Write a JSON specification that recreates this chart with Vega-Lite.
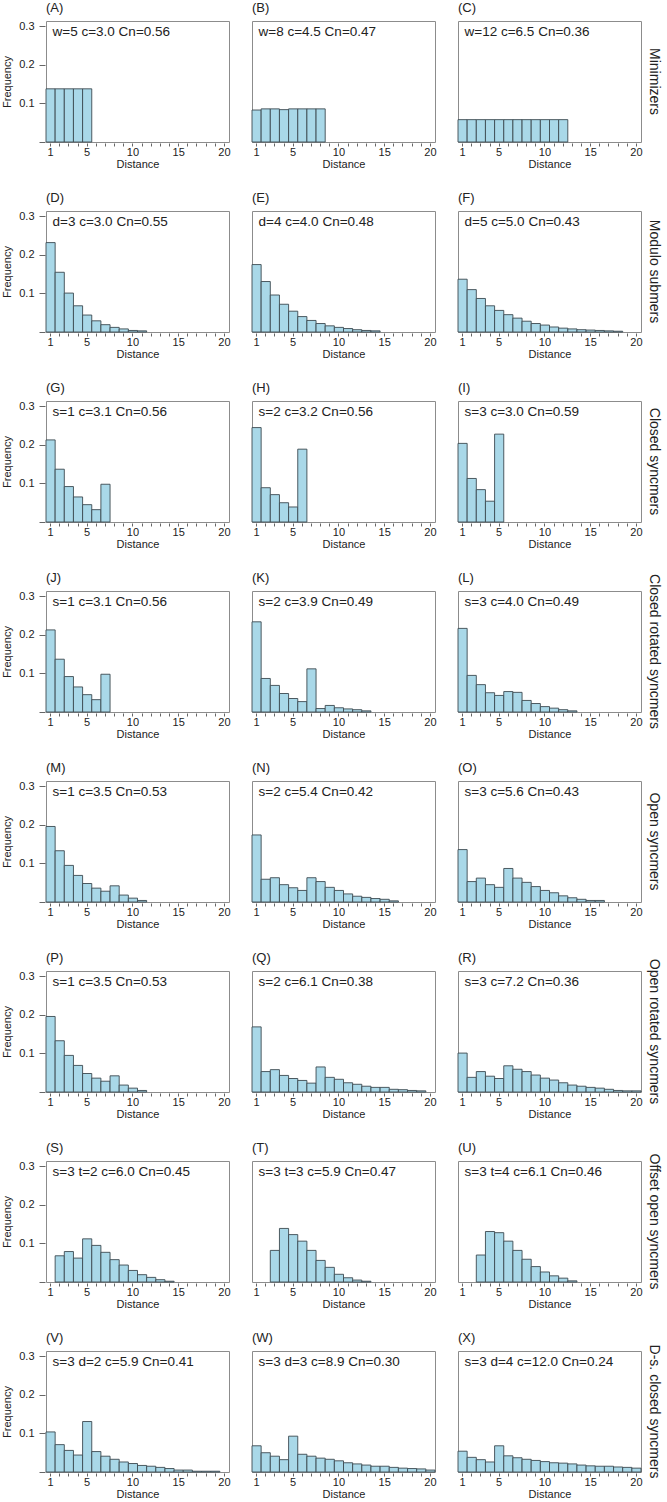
{
"$schema": "https://vega.github.io/schema/vega-lite/v6.json",
"padding": {"left": 1, "top": 2, "right": 2, "bottom": 0},
"datasets": {
"panels": [
{"p":"(A)","m":"Minimizers"},{"p":"(B)","m":"Minimizers"},{"p":"(C)","m":"Minimizers"},
{"p":"(D)","m":"Modulo submers"},{"p":"(E)","m":"Modulo submers"},{"p":"(F)","m":"Modulo submers"},
{"p":"(G)","m":"Closed syncmers"},{"p":"(H)","m":"Closed syncmers"},{"p":"(I)","m":"Closed syncmers"},
{"p":"(J)","m":"Closed rotated syncmers"},{"p":"(K)","m":"Closed rotated syncmers"},{"p":"(L)","m":"Closed rotated syncmers"},
{"p":"(M)","m":"Open syncmers"},{"p":"(N)","m":"Open syncmers"},{"p":"(O)","m":"Open syncmers"},
{"p":"(P)","m":"Open rotated syncmers"},{"p":"(Q)","m":"Open rotated syncmers"},{"p":"(R)","m":"Open rotated syncmers"},
{"p":"(S)","m":"Offset open syncmers"},{"p":"(T)","m":"Offset open syncmers"},{"p":"(U)","m":"Offset open syncmers"},
{"p":"(V)","m":"D-s. closed syncmers"},{"p":"(W)","m":"D-s. closed syncmers"},{"p":"(X)","m":"D-s. closed syncmers"}
],
"rows": [
{"p":"(A)","note":"w=5 c=3.0 Cn=0.56"},{"p":"(B)","note":"w=8 c=4.5 Cn=0.47"},{"p":"(C)","note":"w=12 c=6.5 Cn=0.36"},
{"p":"(D)","note":"d=3 c=3.0 Cn=0.55"},{"p":"(E)","note":"d=4 c=4.0 Cn=0.48"},{"p":"(F)","note":"d=5 c=5.0 Cn=0.43"},
{"p":"(G)","note":"s=1 c=3.1 Cn=0.56"},{"p":"(H)","note":"s=2 c=3.2 Cn=0.56"},{"p":"(I)","note":"s=3 c=3.0 Cn=0.59"},
{"p":"(J)","note":"s=1 c=3.1 Cn=0.56"},{"p":"(K)","note":"s=2 c=3.9 Cn=0.49"},{"p":"(L)","note":"s=3 c=4.0 Cn=0.49"},
{"p":"(M)","note":"s=1 c=3.5 Cn=0.53"},{"p":"(N)","note":"s=2 c=5.4 Cn=0.42"},{"p":"(O)","note":"s=3 c=5.6 Cn=0.43"},
{"p":"(P)","note":"s=1 c=3.5 Cn=0.53"},{"p":"(Q)","note":"s=2 c=6.1 Cn=0.38"},{"p":"(R)","note":"s=3 c=7.2 Cn=0.36"},
{"p":"(S)","note":"s=3 t=2 c=6.0 Cn=0.45"},{"p":"(T)","note":"s=3 t=3 c=5.9 Cn=0.47"},{"p":"(U)","note":"s=3 t=4 c=6.1 Cn=0.46"},
{"p":"(V)","note":"s=3 d=2 c=5.9 Cn=0.41"},{"p":"(W)","note":"s=3 d=3 c=8.9 Cn=0.30"},{"p":"(X)","note":"s=3 d=4 c=12.0 Cn=0.24"},
{"p":"(A)","d":1,"f":0.138},{"p":"(A)","d":2,"f":0.138},{"p":"(A)","d":3,"f":0.138},{"p":"(A)","d":4,"f":0.138},{"p":"(A)","d":5,"f":0.138},
{"p":"(B)","d":1,"f":0.083},{"p":"(B)","d":2,"f":0.086},{"p":"(B)","d":3,"f":0.086},{"p":"(B)","d":4,"f":0.084},{"p":"(B)","d":5,"f":0.086},{"p":"(B)","d":6,"f":0.086},{"p":"(B)","d":7,"f":0.086},{"p":"(B)","d":8,"f":0.086},
{"p":"(C)","d":1,"f":0.058},{"p":"(C)","d":2,"f":0.058},{"p":"(C)","d":3,"f":0.058},{"p":"(C)","d":4,"f":0.058},{"p":"(C)","d":5,"f":0.058},{"p":"(C)","d":6,"f":0.058},{"p":"(C)","d":7,"f":0.058},{"p":"(C)","d":8,"f":0.058},{"p":"(C)","d":9,"f":0.058},{"p":"(C)","d":10,"f":0.058},{"p":"(C)","d":11,"f":0.058},{"p":"(C)","d":12,"f":0.058},
{"p":"(D)","d":1,"f":0.232},{"p":"(D)","d":2,"f":0.155},{"p":"(D)","d":3,"f":0.101},{"p":"(D)","d":4,"f":0.068},{"p":"(D)","d":5,"f":0.044},{"p":"(D)","d":6,"f":0.029},{"p":"(D)","d":7,"f":0.019},{"p":"(D)","d":8,"f":0.012},{"p":"(D)","d":9,"f":0.008},{"p":"(D)","d":10,"f":0.004},{"p":"(D)","d":11,"f":0.003},
{"p":"(E)","d":1,"f":0.175},{"p":"(E)","d":2,"f":0.131},{"p":"(E)","d":3,"f":0.096},{"p":"(E)","d":4,"f":0.072},{"p":"(E)","d":5,"f":0.054},{"p":"(E)","d":6,"f":0.040},{"p":"(E)","d":7,"f":0.030},{"p":"(E)","d":8,"f":0.022},{"p":"(E)","d":9,"f":0.016},{"p":"(E)","d":10,"f":0.012},{"p":"(E)","d":11,"f":0.009},{"p":"(E)","d":12,"f":0.006},{"p":"(E)","d":13,"f":0.004},{"p":"(E)","d":14,"f":0.003},
{"p":"(F)","d":1,"f":0.137},{"p":"(F)","d":2,"f":0.110},{"p":"(F)","d":3,"f":0.087},{"p":"(F)","d":4,"f":0.068},{"p":"(F)","d":5,"f":0.056},{"p":"(F)","d":6,"f":0.045},{"p":"(F)","d":7,"f":0.036},{"p":"(F)","d":8,"f":0.028},{"p":"(F)","d":9,"f":0.022},{"p":"(F)","d":10,"f":0.018},{"p":"(F)","d":11,"f":0.013},{"p":"(F)","d":12,"f":0.010},{"p":"(F)","d":13,"f":0.008},{"p":"(F)","d":14,"f":0.006},{"p":"(F)","d":15,"f":0.005},{"p":"(F)","d":16,"f":0.004},{"p":"(F)","d":17,"f":0.003},{"p":"(F)","d":18,"f":0.002},
{"p":"(G)","d":1,"f":0.213},{"p":"(G)","d":2,"f":0.137},{"p":"(G)","d":3,"f":0.092},{"p":"(G)","d":4,"f":0.065},{"p":"(G)","d":5,"f":0.045},{"p":"(G)","d":6,"f":0.032},{"p":"(G)","d":7,"f":0.098},
{"p":"(H)","d":1,"f":0.245},{"p":"(H)","d":2,"f":0.089},{"p":"(H)","d":3,"f":0.071},{"p":"(H)","d":4,"f":0.050},{"p":"(H)","d":5,"f":0.039},{"p":"(H)","d":6,"f":0.189},
{"p":"(I)","d":1,"f":0.204},{"p":"(I)","d":2,"f":0.113},{"p":"(I)","d":3,"f":0.084},{"p":"(I)","d":4,"f":0.054},{"p":"(I)","d":5,"f":0.228},
{"p":"(J)","d":1,"f":0.213},{"p":"(J)","d":2,"f":0.137},{"p":"(J)","d":3,"f":0.092},{"p":"(J)","d":4,"f":0.065},{"p":"(J)","d":5,"f":0.045},{"p":"(J)","d":6,"f":0.032},{"p":"(J)","d":7,"f":0.098},
{"p":"(K)","d":1,"f":0.234},{"p":"(K)","d":2,"f":0.087},{"p":"(K)","d":3,"f":0.069},{"p":"(K)","d":4,"f":0.048},{"p":"(K)","d":5,"f":0.035},{"p":"(K)","d":6,"f":0.027},{"p":"(K)","d":7,"f":0.112},{"p":"(K)","d":8,"f":0.009},{"p":"(K)","d":9,"f":0.017},{"p":"(K)","d":10,"f":0.011},{"p":"(K)","d":11,"f":0.008},{"p":"(K)","d":12,"f":0.006},{"p":"(K)","d":13,"f":0.003},
{"p":"(L)","d":1,"f":0.217},{"p":"(L)","d":2,"f":0.095},{"p":"(L)","d":3,"f":0.071},{"p":"(L)","d":4,"f":0.050},{"p":"(L)","d":5,"f":0.043},{"p":"(L)","d":6,"f":0.053},{"p":"(L)","d":7,"f":0.051},{"p":"(L)","d":8,"f":0.030},{"p":"(L)","d":9,"f":0.022},{"p":"(L)","d":10,"f":0.014},{"p":"(L)","d":11,"f":0.010},{"p":"(L)","d":12,"f":0.006},{"p":"(L)","d":13,"f":0.003},
{"p":"(M)","d":1,"f":0.196},{"p":"(M)","d":2,"f":0.133},{"p":"(M)","d":3,"f":0.095},{"p":"(M)","d":4,"f":0.069},{"p":"(M)","d":5,"f":0.048},{"p":"(M)","d":6,"f":0.036},{"p":"(M)","d":7,"f":0.028},{"p":"(M)","d":8,"f":0.042},{"p":"(M)","d":9,"f":0.018},{"p":"(M)","d":10,"f":0.010},{"p":"(M)","d":11,"f":0.004},
{"p":"(N)","d":1,"f":0.174},{"p":"(N)","d":2,"f":0.059},{"p":"(N)","d":3,"f":0.063},{"p":"(N)","d":4,"f":0.045},{"p":"(N)","d":5,"f":0.037},{"p":"(N)","d":6,"f":0.030},{"p":"(N)","d":7,"f":0.063},{"p":"(N)","d":8,"f":0.053},{"p":"(N)","d":9,"f":0.038},{"p":"(N)","d":10,"f":0.030},{"p":"(N)","d":11,"f":0.021},{"p":"(N)","d":12,"f":0.015},{"p":"(N)","d":13,"f":0.012},{"p":"(N)","d":14,"f":0.009},{"p":"(N)","d":15,"f":0.007},{"p":"(N)","d":16,"f":0.003},
{"p":"(O)","d":1,"f":0.136},{"p":"(O)","d":2,"f":0.053},{"p":"(O)","d":3,"f":0.062},{"p":"(O)","d":4,"f":0.045},{"p":"(O)","d":5,"f":0.038},{"p":"(O)","d":6,"f":0.087},{"p":"(O)","d":7,"f":0.062},{"p":"(O)","d":8,"f":0.051},{"p":"(O)","d":9,"f":0.040},{"p":"(O)","d":10,"f":0.030},{"p":"(O)","d":11,"f":0.024},{"p":"(O)","d":12,"f":0.016},{"p":"(O)","d":13,"f":0.011},{"p":"(O)","d":14,"f":0.007},{"p":"(O)","d":15,"f":0.004},{"p":"(O)","d":16,"f":0.004},
{"p":"(P)","d":1,"f":0.196},{"p":"(P)","d":2,"f":0.133},{"p":"(P)","d":3,"f":0.095},{"p":"(P)","d":4,"f":0.069},{"p":"(P)","d":5,"f":0.048},{"p":"(P)","d":6,"f":0.036},{"p":"(P)","d":7,"f":0.028},{"p":"(P)","d":8,"f":0.042},{"p":"(P)","d":9,"f":0.018},{"p":"(P)","d":10,"f":0.010},{"p":"(P)","d":11,"f":0.004},
{"p":"(Q)","d":1,"f":0.169},{"p":"(Q)","d":2,"f":0.053},{"p":"(Q)","d":3,"f":0.058},{"p":"(Q)","d":4,"f":0.043},{"p":"(Q)","d":5,"f":0.035},{"p":"(Q)","d":6,"f":0.030},{"p":"(Q)","d":7,"f":0.023},{"p":"(Q)","d":8,"f":0.065},{"p":"(Q)","d":9,"f":0.038},{"p":"(Q)","d":10,"f":0.033},{"p":"(Q)","d":11,"f":0.024},{"p":"(Q)","d":12,"f":0.020},{"p":"(Q)","d":13,"f":0.015},{"p":"(Q)","d":14,"f":0.012},{"p":"(Q)","d":15,"f":0.012},{"p":"(Q)","d":16,"f":0.007},{"p":"(Q)","d":17,"f":0.006},{"p":"(Q)","d":18,"f":0.004},{"p":"(Q)","d":19,"f":0.003},
{"p":"(R)","d":1,"f":0.101},{"p":"(R)","d":2,"f":0.038},{"p":"(R)","d":3,"f":0.053},{"p":"(R)","d":4,"f":0.041},{"p":"(R)","d":5,"f":0.035},{"p":"(R)","d":6,"f":0.068},{"p":"(R)","d":7,"f":0.059},{"p":"(R)","d":8,"f":0.053},{"p":"(R)","d":9,"f":0.044},{"p":"(R)","d":10,"f":0.036},{"p":"(R)","d":11,"f":0.031},{"p":"(R)","d":12,"f":0.024},{"p":"(R)","d":13,"f":0.018},{"p":"(R)","d":14,"f":0.015},{"p":"(R)","d":15,"f":0.012},{"p":"(R)","d":16,"f":0.010},{"p":"(R)","d":17,"f":0.007},{"p":"(R)","d":18,"f":0.004},{"p":"(R)","d":19,"f":0.003},{"p":"(R)","d":20,"f":0.003},
{"p":"(S)","d":2,"f":0.068},{"p":"(S)","d":3,"f":0.079},{"p":"(S)","d":4,"f":0.062},{"p":"(S)","d":5,"f":0.112},{"p":"(S)","d":6,"f":0.095},{"p":"(S)","d":7,"f":0.077},{"p":"(S)","d":8,"f":0.058},{"p":"(S)","d":9,"f":0.044},{"p":"(S)","d":10,"f":0.030},{"p":"(S)","d":11,"f":0.019},{"p":"(S)","d":12,"f":0.012},{"p":"(S)","d":13,"f":0.006},{"p":"(S)","d":14,"f":0.002},
{"p":"(T)","d":3,"f":0.082},{"p":"(T)","d":4,"f":0.139},{"p":"(T)","d":5,"f":0.123},{"p":"(T)","d":6,"f":0.106},{"p":"(T)","d":7,"f":0.082},{"p":"(T)","d":8,"f":0.056},{"p":"(T)","d":9,"f":0.038},{"p":"(T)","d":10,"f":0.020},{"p":"(T)","d":11,"f":0.011},{"p":"(T)","d":12,"f":0.005},{"p":"(T)","d":13,"f":0.002},
{"p":"(U)","d":3,"f":0.070},{"p":"(U)","d":4,"f":0.131},{"p":"(U)","d":5,"f":0.128},{"p":"(U)","d":6,"f":0.106},{"p":"(U)","d":7,"f":0.082},{"p":"(U)","d":8,"f":0.059},{"p":"(U)","d":9,"f":0.040},{"p":"(U)","d":10,"f":0.026},{"p":"(U)","d":11,"f":0.016},{"p":"(U)","d":12,"f":0.010},{"p":"(U)","d":13,"f":0.003},
{"p":"(V)","d":1,"f":0.104},{"p":"(V)","d":2,"f":0.071},{"p":"(V)","d":3,"f":0.056},{"p":"(V)","d":4,"f":0.044},{"p":"(V)","d":5,"f":0.131},{"p":"(V)","d":6,"f":0.053},{"p":"(V)","d":7,"f":0.041},{"p":"(V)","d":8,"f":0.033},{"p":"(V)","d":9,"f":0.026},{"p":"(V)","d":10,"f":0.022},{"p":"(V)","d":11,"f":0.017},{"p":"(V)","d":12,"f":0.015},{"p":"(V)","d":13,"f":0.012},{"p":"(V)","d":14,"f":0.009},{"p":"(V)","d":15,"f":0.005},{"p":"(V)","d":16,"f":0.005},{"p":"(V)","d":17,"f":0.002},{"p":"(V)","d":18,"f":0.002},{"p":"(V)","d":19,"f":0.002},
{"p":"(W)","d":1,"f":0.068},{"p":"(W)","d":2,"f":0.050},{"p":"(W)","d":3,"f":0.041},{"p":"(W)","d":4,"f":0.032},{"p":"(W)","d":5,"f":0.093},{"p":"(W)","d":6,"f":0.046},{"p":"(W)","d":7,"f":0.041},{"p":"(W)","d":8,"f":0.036},{"p":"(W)","d":9,"f":0.033},{"p":"(W)","d":10,"f":0.029},{"p":"(W)","d":11,"f":0.024},{"p":"(W)","d":12,"f":0.021},{"p":"(W)","d":13,"f":0.018},{"p":"(W)","d":14,"f":0.015},{"p":"(W)","d":15,"f":0.015},{"p":"(W)","d":16,"f":0.012},{"p":"(W)","d":17,"f":0.010},{"p":"(W)","d":18,"f":0.009},{"p":"(W)","d":19,"f":0.008},{"p":"(W)","d":20,"f":0.005},
{"p":"(X)","d":1,"f":0.054},{"p":"(X)","d":2,"f":0.038},{"p":"(X)","d":3,"f":0.032},{"p":"(X)","d":4,"f":0.026},{"p":"(X)","d":5,"f":0.068},{"p":"(X)","d":6,"f":0.042},{"p":"(X)","d":7,"f":0.037},{"p":"(X)","d":8,"f":0.033},{"p":"(X)","d":9,"f":0.030},{"p":"(X)","d":10,"f":0.027},{"p":"(X)","d":11,"f":0.024},{"p":"(X)","d":12,"f":0.023},{"p":"(X)","d":13,"f":0.021},{"p":"(X)","d":14,"f":0.018},{"p":"(X)","d":15,"f":0.016},{"p":"(X)","d":16,"f":0.015},{"p":"(X)","d":17,"f":0.015},{"p":"(X)","d":18,"f":0.013},{"p":"(X)","d":19,"f":0.012},{"p":"(X)","d":20,"f":0.010}
]
},
"data": {"name": "rows"},
"transform": [{"lookup": "p", "from": {"data": {"name": "panels"}, "key": "p", "fields": ["m"]}}],
"spacing": 23,
"vconcat": [
{"transform": [{"filter": {"field": "m", "equal": "Minimizers"}}],
 "facet": {"row": {"field": "m", "type": "nominal", "title": null}, "column": {"field": "p", "type": "nominal", "title": null, "header": {"labelExpr": "'\u00a0\u00a0' + datum.value"}}},
 "spacing": {"column": 21, "row": 0},
 "spec": {"width": 183, "height": 121, "layer": [
  {"transform": [{"filter": "isValid(datum.f)"}], "mark": {"type": "bar", "fill": "#a9d8e8", "stroke": "#3c4a50", "strokeWidth": 0.9},
   "encoding": {"x": {"field": "d", "type": "ordinal", "title": "Distance", "scale": {"domain": [1,2,3,4,5,6,7,8,9,10,11,12,13,14,15,16,17,18,19,20], "paddingInner": 0, "paddingOuter": 0}, "axis": {"labelAngle": 0, "labelOverlap": false, "labelExpr": "indexof([1,5,10,15,20], datum.value) >= 0 ? datum.label : ''"}},
    "y": {"field": "f", "type": "quantitative", "title": "Frequency", "scale": {"domain": [0, 0.314], "nice": false}, "axis": {"values": [0, 0.1, 0.2, 0.3], "format": ".1f", "labelOverlap": false, "labelExpr": "datum.value == 0 ? '' : datum.label"}}}},
  {"transform": [{"filter": "isValid(datum.note)"}], "mark": {"type": "text", "align": "left", "baseline": "middle", "fontSize": 13.5, "color": "#222", "dx": 2},
   "encoding": {"x": {"datum": 1, "type": "ordinal"}, "y": {"datum": 0.285, "type": "quantitative"}, "text": {"field": "note"}}}
 ]}},
{"transform": [{"filter": {"field": "m", "equal": "Modulo submers"}}],
 "facet": {"row": {"field": "m", "type": "nominal", "title": null}, "column": {"field": "p", "type": "nominal", "title": null, "header": {"labelExpr": "'\u00a0\u00a0' + datum.value"}}},
 "spacing": {"column": 21, "row": 0},
 "spec": {"width": 183, "height": 121, "layer": [
  {"transform": [{"filter": "isValid(datum.f)"}], "mark": {"type": "bar", "fill": "#a9d8e8", "stroke": "#3c4a50", "strokeWidth": 0.9},
   "encoding": {"x": {"field": "d", "type": "ordinal", "title": "Distance", "scale": {"domain": [1,2,3,4,5,6,7,8,9,10,11,12,13,14,15,16,17,18,19,20], "paddingInner": 0, "paddingOuter": 0}, "axis": {"labelAngle": 0, "labelOverlap": false, "labelExpr": "indexof([1,5,10,15,20], datum.value) >= 0 ? datum.label : ''"}},
    "y": {"field": "f", "type": "quantitative", "title": "Frequency", "scale": {"domain": [0, 0.314], "nice": false}, "axis": {"values": [0, 0.1, 0.2, 0.3], "format": ".1f", "labelOverlap": false, "labelExpr": "datum.value == 0 ? '' : datum.label"}}}},
  {"transform": [{"filter": "isValid(datum.note)"}], "mark": {"type": "text", "align": "left", "baseline": "middle", "fontSize": 13.5, "color": "#222", "dx": 2},
   "encoding": {"x": {"datum": 1, "type": "ordinal"}, "y": {"datum": 0.285, "type": "quantitative"}, "text": {"field": "note"}}}
 ]}},
{"transform": [{"filter": {"field": "m", "equal": "Closed syncmers"}}],
 "facet": {"row": {"field": "m", "type": "nominal", "title": null}, "column": {"field": "p", "type": "nominal", "title": null, "header": {"labelExpr": "'\u00a0\u00a0' + datum.value"}}},
 "spacing": {"column": 21, "row": 0},
 "spec": {"width": 183, "height": 121, "layer": [
  {"transform": [{"filter": "isValid(datum.f)"}], "mark": {"type": "bar", "fill": "#a9d8e8", "stroke": "#3c4a50", "strokeWidth": 0.9},
   "encoding": {"x": {"field": "d", "type": "ordinal", "title": "Distance", "scale": {"domain": [1,2,3,4,5,6,7,8,9,10,11,12,13,14,15,16,17,18,19,20], "paddingInner": 0, "paddingOuter": 0}, "axis": {"labelAngle": 0, "labelOverlap": false, "labelExpr": "indexof([1,5,10,15,20], datum.value) >= 0 ? datum.label : ''"}},
    "y": {"field": "f", "type": "quantitative", "title": "Frequency", "scale": {"domain": [0, 0.314], "nice": false}, "axis": {"values": [0, 0.1, 0.2, 0.3], "format": ".1f", "labelOverlap": false, "labelExpr": "datum.value == 0 ? '' : datum.label"}}}},
  {"transform": [{"filter": "isValid(datum.note)"}], "mark": {"type": "text", "align": "left", "baseline": "middle", "fontSize": 13.5, "color": "#222", "dx": 2},
   "encoding": {"x": {"datum": 1, "type": "ordinal"}, "y": {"datum": 0.285, "type": "quantitative"}, "text": {"field": "note"}}}
 ]}},
{"transform": [{"filter": {"field": "m", "equal": "Closed rotated syncmers"}}],
 "facet": {"row": {"field": "m", "type": "nominal", "title": null}, "column": {"field": "p", "type": "nominal", "title": null, "header": {"labelExpr": "'\u00a0\u00a0' + datum.value"}}},
 "spacing": {"column": 21, "row": 0},
 "spec": {"width": 183, "height": 121, "layer": [
  {"transform": [{"filter": "isValid(datum.f)"}], "mark": {"type": "bar", "fill": "#a9d8e8", "stroke": "#3c4a50", "strokeWidth": 0.9},
   "encoding": {"x": {"field": "d", "type": "ordinal", "title": "Distance", "scale": {"domain": [1,2,3,4,5,6,7,8,9,10,11,12,13,14,15,16,17,18,19,20], "paddingInner": 0, "paddingOuter": 0}, "axis": {"labelAngle": 0, "labelOverlap": false, "labelExpr": "indexof([1,5,10,15,20], datum.value) >= 0 ? datum.label : ''"}},
    "y": {"field": "f", "type": "quantitative", "title": "Frequency", "scale": {"domain": [0, 0.314], "nice": false}, "axis": {"values": [0, 0.1, 0.2, 0.3], "format": ".1f", "labelOverlap": false, "labelExpr": "datum.value == 0 ? '' : datum.label"}}}},
  {"transform": [{"filter": "isValid(datum.note)"}], "mark": {"type": "text", "align": "left", "baseline": "middle", "fontSize": 13.5, "color": "#222", "dx": 2},
   "encoding": {"x": {"datum": 1, "type": "ordinal"}, "y": {"datum": 0.285, "type": "quantitative"}, "text": {"field": "note"}}}
 ]}},
{"transform": [{"filter": {"field": "m", "equal": "Open syncmers"}}],
 "facet": {"row": {"field": "m", "type": "nominal", "title": null}, "column": {"field": "p", "type": "nominal", "title": null, "header": {"labelExpr": "'\u00a0\u00a0' + datum.value"}}},
 "spacing": {"column": 21, "row": 0},
 "spec": {"width": 183, "height": 121, "layer": [
  {"transform": [{"filter": "isValid(datum.f)"}], "mark": {"type": "bar", "fill": "#a9d8e8", "stroke": "#3c4a50", "strokeWidth": 0.9},
   "encoding": {"x": {"field": "d", "type": "ordinal", "title": "Distance", "scale": {"domain": [1,2,3,4,5,6,7,8,9,10,11,12,13,14,15,16,17,18,19,20], "paddingInner": 0, "paddingOuter": 0}, "axis": {"labelAngle": 0, "labelOverlap": false, "labelExpr": "indexof([1,5,10,15,20], datum.value) >= 0 ? datum.label : ''"}},
    "y": {"field": "f", "type": "quantitative", "title": "Frequency", "scale": {"domain": [0, 0.314], "nice": false}, "axis": {"values": [0, 0.1, 0.2, 0.3], "format": ".1f", "labelOverlap": false, "labelExpr": "datum.value == 0 ? '' : datum.label"}}}},
  {"transform": [{"filter": "isValid(datum.note)"}], "mark": {"type": "text", "align": "left", "baseline": "middle", "fontSize": 13.5, "color": "#222", "dx": 2},
   "encoding": {"x": {"datum": 1, "type": "ordinal"}, "y": {"datum": 0.285, "type": "quantitative"}, "text": {"field": "note"}}}
 ]}},
{"transform": [{"filter": {"field": "m", "equal": "Open rotated syncmers"}}],
 "facet": {"row": {"field": "m", "type": "nominal", "title": null}, "column": {"field": "p", "type": "nominal", "title": null, "header": {"labelExpr": "'\u00a0\u00a0' + datum.value"}}},
 "spacing": {"column": 21, "row": 0},
 "spec": {"width": 183, "height": 121, "layer": [
  {"transform": [{"filter": "isValid(datum.f)"}], "mark": {"type": "bar", "fill": "#a9d8e8", "stroke": "#3c4a50", "strokeWidth": 0.9},
   "encoding": {"x": {"field": "d", "type": "ordinal", "title": "Distance", "scale": {"domain": [1,2,3,4,5,6,7,8,9,10,11,12,13,14,15,16,17,18,19,20], "paddingInner": 0, "paddingOuter": 0}, "axis": {"labelAngle": 0, "labelOverlap": false, "labelExpr": "indexof([1,5,10,15,20], datum.value) >= 0 ? datum.label : ''"}},
    "y": {"field": "f", "type": "quantitative", "title": "Frequency", "scale": {"domain": [0, 0.314], "nice": false}, "axis": {"values": [0, 0.1, 0.2, 0.3], "format": ".1f", "labelOverlap": false, "labelExpr": "datum.value == 0 ? '' : datum.label"}}}},
  {"transform": [{"filter": "isValid(datum.note)"}], "mark": {"type": "text", "align": "left", "baseline": "middle", "fontSize": 13.5, "color": "#222", "dx": 2},
   "encoding": {"x": {"datum": 1, "type": "ordinal"}, "y": {"datum": 0.285, "type": "quantitative"}, "text": {"field": "note"}}}
 ]}},
{"transform": [{"filter": {"field": "m", "equal": "Offset open syncmers"}}],
 "facet": {"row": {"field": "m", "type": "nominal", "title": null}, "column": {"field": "p", "type": "nominal", "title": null, "header": {"labelExpr": "'\u00a0\u00a0' + datum.value"}}},
 "spacing": {"column": 21, "row": 0},
 "spec": {"width": 183, "height": 121, "layer": [
  {"transform": [{"filter": "isValid(datum.f)"}], "mark": {"type": "bar", "fill": "#a9d8e8", "stroke": "#3c4a50", "strokeWidth": 0.9},
   "encoding": {"x": {"field": "d", "type": "ordinal", "title": "Distance", "scale": {"domain": [1,2,3,4,5,6,7,8,9,10,11,12,13,14,15,16,17,18,19,20], "paddingInner": 0, "paddingOuter": 0}, "axis": {"labelAngle": 0, "labelOverlap": false, "labelExpr": "indexof([1,5,10,15,20], datum.value) >= 0 ? datum.label : ''"}},
    "y": {"field": "f", "type": "quantitative", "title": "Frequency", "scale": {"domain": [0, 0.314], "nice": false}, "axis": {"values": [0, 0.1, 0.2, 0.3], "format": ".1f", "labelOverlap": false, "labelExpr": "datum.value == 0 ? '' : datum.label"}}}},
  {"transform": [{"filter": "isValid(datum.note)"}], "mark": {"type": "text", "align": "left", "baseline": "middle", "fontSize": 13.5, "color": "#222", "dx": 2},
   "encoding": {"x": {"datum": 1, "type": "ordinal"}, "y": {"datum": 0.285, "type": "quantitative"}, "text": {"field": "note"}}}
 ]}},
{"transform": [{"filter": {"field": "m", "equal": "D-s. closed syncmers"}}],
 "facet": {"row": {"field": "m", "type": "nominal", "title": null}, "column": {"field": "p", "type": "nominal", "title": null, "header": {"labelExpr": "'\u00a0\u00a0' + datum.value"}}},
 "spacing": {"column": 21, "row": 0},
 "spec": {"width": 183, "height": 121, "layer": [
  {"transform": [{"filter": "isValid(datum.f)"}], "mark": {"type": "bar", "fill": "#a9d8e8", "stroke": "#3c4a50", "strokeWidth": 0.9},
   "encoding": {"x": {"field": "d", "type": "ordinal", "title": "Distance", "scale": {"domain": [1,2,3,4,5,6,7,8,9,10,11,12,13,14,15,16,17,18,19,20], "paddingInner": 0, "paddingOuter": 0}, "axis": {"labelAngle": 0, "labelOverlap": false, "labelExpr": "indexof([1,5,10,15,20], datum.value) >= 0 ? datum.label : ''"}},
    "y": {"field": "f", "type": "quantitative", "title": "Frequency", "scale": {"domain": [0, 0.314], "nice": false}, "axis": {"values": [0, 0.1, 0.2, 0.3], "format": ".1f", "labelOverlap": false, "labelExpr": "datum.value == 0 ? '' : datum.label"}}}},
  {"transform": [{"filter": "isValid(datum.note)"}], "mark": {"type": "text", "align": "left", "baseline": "middle", "fontSize": 13.5, "color": "#222", "dx": 2},
   "encoding": {"x": {"datum": 1, "type": "ordinal"}, "y": {"datum": 0.285, "type": "quantitative"}, "text": {"field": "note"}}}
 ]}}
],
"config": {
 "font": "Liberation Sans",
 "view": {"stroke": "#8c8c8c", "strokeWidth": 1},
 "axis": {"labelFontSize": 11, "titleFontSize": 11, "titleFontWeight": "normal", "labelColor": "#222", "titleColor": "#222", "tickColor": "#666", "domain": false, "grid": false},
 "axisX": {"tickSize": 3, "labelPadding": 0, "titlePadding": 1},
 "axisY": {"tickSize": 6, "labelPadding": 5, "titlePadding": 6},
 "headerColumn": {"labelFontSize": 13, "labelAnchor": "start", "labelPadding": 5, "labelColor": "#222"},
 "headerRow": {"labelFontSize": 14, "labelOrient": "right", "labelAngle": 90, "labelPadding": 5, "labelColor": "#222"}
}
}
